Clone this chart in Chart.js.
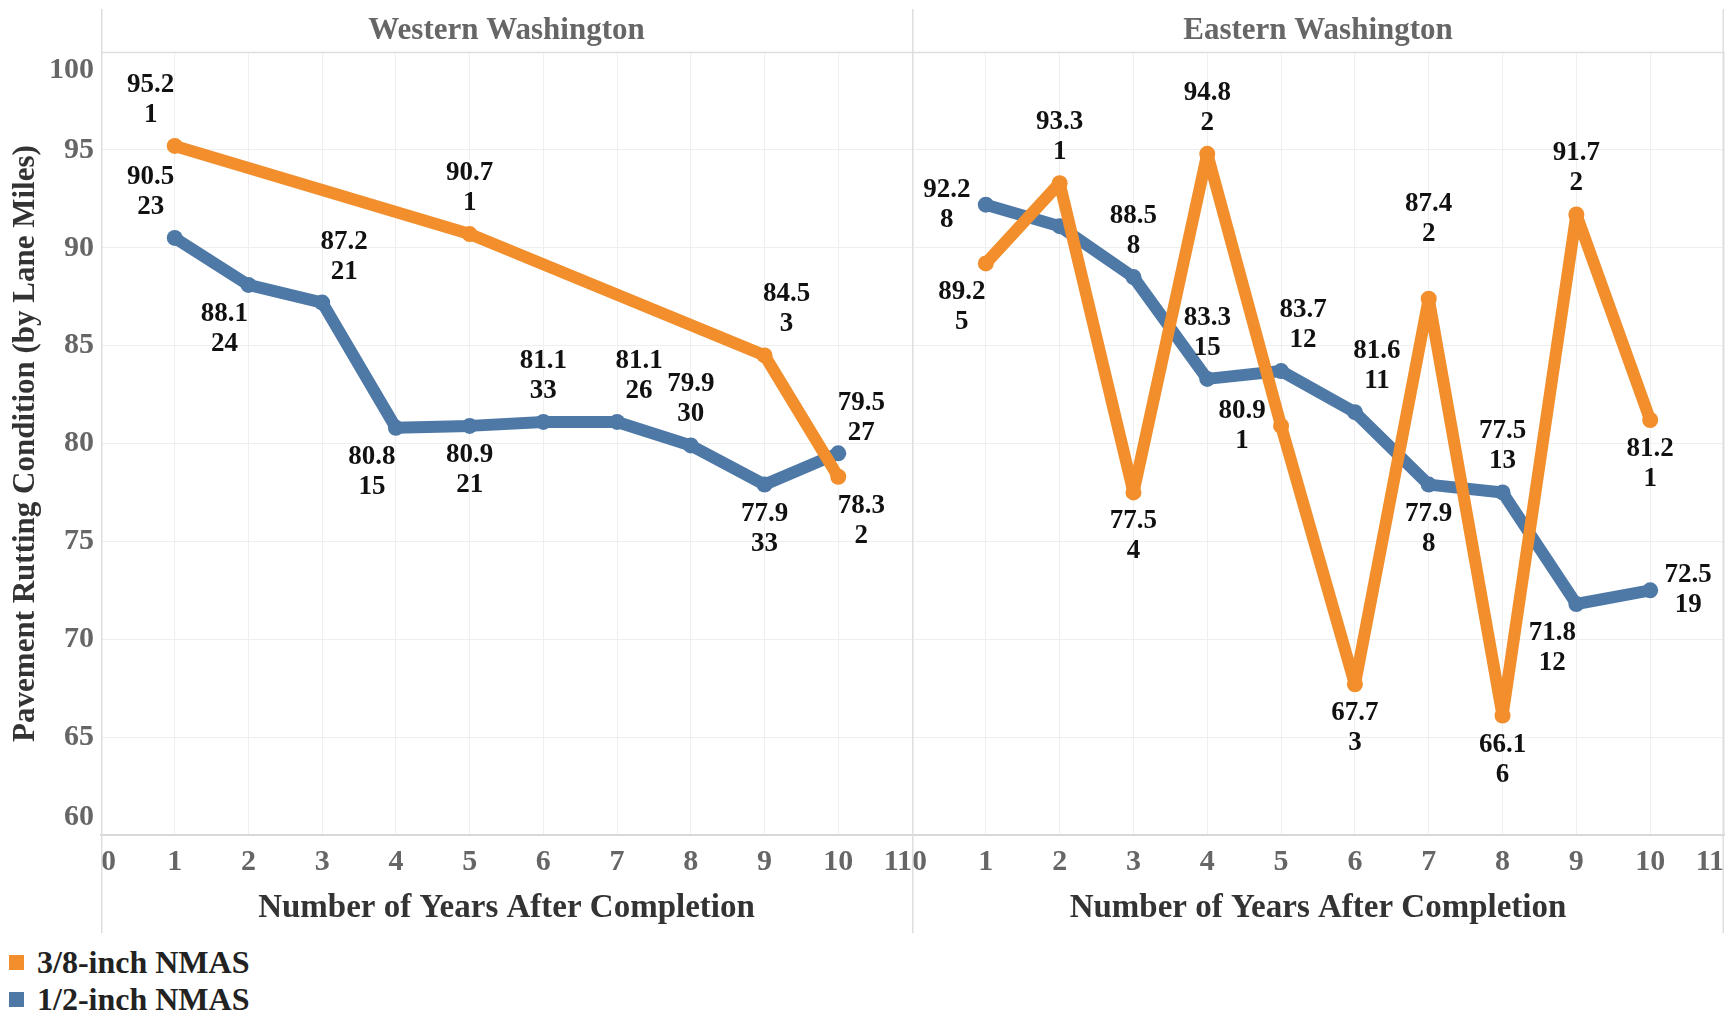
<!DOCTYPE html>
<html>
<head>
<meta charset="utf-8">
<script src="https://cdn.jsdelivr.net/npm/chart.js@4.4.1/dist/chart.umd.min.js"></script>
<style>
  html, body { margin: 0; padding: 0; background: #fff; }
  #wrap { position: relative; width: 1736px; height: 1016px; overflow: hidden; }
  .panel { position: absolute; top: 0; height: 940px; }
  #west { left: 0; width: 912px; }
  #east { left: 912px; width: 824px; }
  #legend { position: absolute; left: 9px; top: 944px; font: bold 32px "Liberation Serif", serif; color: #222; }
  .item { display: flex; align-items: center; height: 37px; }
  .sw { width: 15px; height: 15px; margin-right: 13px; }
</style>
</head>
<body>
<div id="wrap">
  <div class="panel" id="west"><canvas id="westChart"></canvas></div>
  <div class="panel" id="east"><canvas id="eastChart"></canvas></div>
  <div id="legend"></div>
</div>
<script>
// data
const years = [1, 2, 3, 4, 5, 6, 7, 8, 9, 10];
const xTicks = [0, 1, 2, 3, 4, 5, 6, 7, 8, 9, 10, 11];
const yTicks = [60, 65, 70, 75, 80, 85, 90, 95, 100];
const seriesNames = ["3/8-inch NMAS", "1/2-inch NMAS"];
const panelNames = ["Western Washington", "Eastern Washington"];

const west38 = [95.2, null, null, null, 90.7, null, null, null, 84.5, 78.3];
const west38Miles = [1, null, null, null, 1, null, null, null, 3, 2];
const west12 = [90.5, 88.1, 87.2, 80.8, 80.9, 81.1, 81.1, 79.9, 77.9, 79.5];
const west12Miles = [23, 24, 21, 15, 21, 33, 26, 30, 33, 27];

const east38 = [89.2, 93.3, 77.5, 94.8, 80.9, 67.7, 87.4, 66.1, 91.7, 81.2];
const east38Miles = [5, 1, 4, 2, 1, 3, 2, 6, 2, 1];
const east12 = [92.2, 91.1, 88.5, 83.3, 83.7, 81.6, 77.9, 77.5, 71.8, 72.5];
const east12Miles = [8, null, 8, 15, 12, 11, 8, 13, 12, 19];

const colors = ["#F28E2B", "#4E79A7"];
const serif = '"Liberation Serif", "Times New Roman", serif';

// where each value label sits relative to its point
const westPos = [
  ["NW", null, null, null, "N", null, null, null, "NE", "SE"],
  ["NW", "SW", "NE", "SW", "S", "N", "NE", "N", "S", "NE2"]
];
const eastPos = [
  ["SW", "N", "S", "N", "W", "S", "NN", "S", "N", "S"],
  ["W", null, "N", "N", "NE", "NE", "S", "N", "SW", "E"]
];
const OFFSETS = {
  N: [0, -46], S: [0, 44], NE: [22, -46], NW: [-24, -46], SE: [23, 44], SW: [-24, 44],
  W: [-39, 0], E: [38, 0], NN: [0, -80], NE2: [23, -35]
};

const valueLabels = {
  id: "valueLabels",
  afterDatasetsDraw(chart, args, opts) {
    const ctx = chart.ctx;
    ctx.save();
    ctx.font = "bold 27px " + serif;
    ctx.fillStyle = "#111";
    ctx.textAlign = "center";
    ctx.textBaseline = "middle";
    chart.data.datasets.forEach((ds, di) => {
      const meta = chart.getDatasetMeta(di);
      meta.data.forEach((pt, i) => {
        const code = opts.pos[di][i];
        if (!code || ds.data[i].y == null) return;
        const [dx, dy] = OFFSETS[code];
        const cx = pt.x + dx, cy = pt.y + dy;
        ctx.fillText(ds.data[i].y.toFixed(1), cx, cy - 15);
        ctx.fillText(String(ds.miles[i]), cx, cy + 15);
      });
    });
    ctx.restore();
  }
};

const panelFrame = {
  id: "panelFrame",
  beforeDatasetsDraw(chart, args, opts) {
    const ctx = chart.ctx;
    const a = chart.chartArea;
    ctx.save();
    ctx.strokeStyle = "#dedede";
    ctx.lineWidth = 1.5;
    ctx.beginPath();
    ctx.moveTo(a.left, 52.5); ctx.lineTo(a.right, 52.5);
    ctx.stroke();
    opts.edges.forEach(e => {
      const x = e === "left" ? a.left + 0.75 : a.right - 0.75;
      ctx.beginPath();
      ctx.moveTo(x, 9); ctx.lineTo(x, 933);
      ctx.stroke();
    });
    ctx.font = "bold 31px " + serif;
    ctx.fillStyle = "#666";
    ctx.textAlign = "center";
    ctx.textBaseline = "middle";
    ctx.fillText(opts.title, (a.left + a.right) / 2, 31);
    ctx.restore();
  }
};

function makeChart(id, title, d38, m38, d12, m12, pos, showY, edges) {
  const mk = (vals, miles, k) => ({
    label: seriesNames[k],
    data: years.map((x, i) => ({ x: x, y: vals[i] })),
    miles: miles,
    borderColor: colors[k],
    backgroundColor: colors[k],
    borderWidth: 12,
    pointRadius: 8,
    pointHoverRadius: 8,
    pointBorderWidth: 0,
    borderJoinStyle: "round",
    borderCapStyle: "round",
    spanGaps: true,
    tension: 0
  });
  return new Chart(document.getElementById(id), {
    type: "line",
    data: { datasets: [mk(d38, m38, 0), mk(d12, m12, 1)] },
    options: {
      responsive: true,
      maintainAspectRatio: false,
      animation: false,
      events: [],
      layout: { autoPadding: false, padding: { top: 52, left: 0, right: showY ? 0 : 12, bottom: 0 } },
      scales: {
        x: {
          type: "linear",
          min: 0, max: 11,
          afterBuildTicks: s => { s.ticks = xTicks.map(v => ({ value: v })); },
          ticks: { align: "inner", padding: 0, color: "#666", font: { family: serif, size: 30, weight: "bold" } },
          grid: { color: "#efefef", drawTicks: true, tickLength: 9, tickColor: "rgba(0,0,0,0)" },
          border: { color: "#d9d9d9", width: 2 },
          title: {
            display: true, text: "Number of Years After Completion",
            color: "#333", font: { family: serif, size: 33, weight: "bold" },
            padding: { top: 0, bottom: 12 }
          },
          afterFit: s => { s.height = 105; }
        },
        y: {
          min: 60, max: 100,
          afterBuildTicks: s => { s.ticks = yTicks.map(v => ({ value: v })); },
          ticks: {
            display: showY, padding: 7, color: "#666",
            font: { family: serif, size: 30, weight: "bold" },
            callback: v => v === 100 ? ["", "100"] : v === 60 ? ["60", ""] : String(v)
          },
          grid: { color: "#efefef", drawTicks: false },
          border: { display: false },
          title: {
            display: showY, text: "Pavement Rutting Condition (by Lane Miles)",
            color: "#333", font: { family: serif, size: 31, weight: "bold" },
            padding: { top: 7, bottom: 0 }
          },
          afterFit: s => { s.width = showY ? 101 : 0; }
        }
      },
      plugins: {
        legend: { display: false },
        tooltip: { enabled: false },
        valueLabels: { pos: pos },
        panelFrame: { title: title, edges: edges }
      }
    },
    plugins: [panelFrame, valueLabels]
  });
}

makeChart("westChart", panelNames[0], west38, west38Miles, west12, west12Miles, westPos, true, ["left"]);
makeChart("eastChart", panelNames[1], east38, east38Miles, east12, east12Miles, eastPos, false, ["left", "right"]);

// legend
const legend = document.getElementById("legend");
seriesNames.forEach((n, k) => {
  const row = document.createElement("div");
  row.className = "item";
  const sw = document.createElement("span");
  sw.className = "sw";
  sw.style.background = colors[k];
  row.appendChild(sw);
  row.appendChild(document.createTextNode(n));
  legend.appendChild(row);
});
</script>
</body>
</html>
